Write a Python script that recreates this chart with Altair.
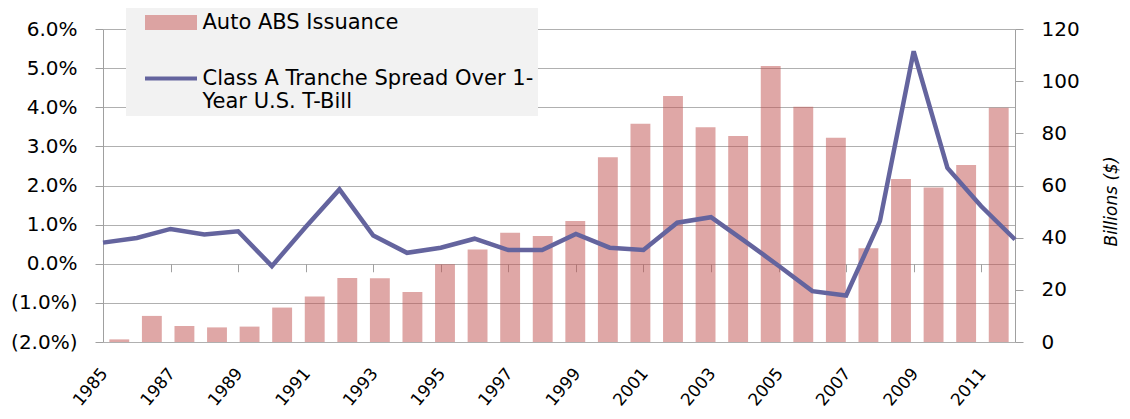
import altair as alt
import pandas as pd

years = list(range(1985, 2013))
issuance = [1.0, 10.0, 6.1, 5.6, 5.9, 13.2, 17.4, 24.5, 24.4, 19.2,
             29.8, 35.5, 41.9, 40.6, 46.4, 70.8, 83.7, 94.3, 82.3, 79.0,
             105.8, 90.2, 78.3, 35.9, 62.5, 59.2, 67.9, 89.8]
spread = [0.0054, 0.0066, 0.0089, 0.0075, 0.0083, -0.0006, 0.0094, 0.0190, 0.0072, 0.0028,
          0.0041, 0.0064, 0.0035, 0.0035, 0.0076, 0.0041, 0.0035, 0.0105, 0.0119, 0.0058,
          -0.0005, -0.0070, -0.0081, 0.0109, 0.0543, 0.0245, 0.0147, 0.0062]
label_years = list(range(1985, 2012, 2))
left_ticks = [-0.02, -0.01, 0.0, 0.01, 0.02, 0.03, 0.04, 0.05, 0.06]
right_ticks = [0, 20, 40, 60, 80, 100, 120]

S_BAR = "Auto ABS Issuance"
S_LINE = "Class A Tranche Spread Over 1-Year U.S. T-Bill"
series = [S_BAR, S_LINE]

FONT = "DejaVu Sans"
BAR = "#C0504D"
BAR_SOLID = "#DCA3A2"
LINE = "#64649E"
GRID = "#B0B0B0"
AXIS = "#A0A0A0"

# custom symbol paths (unit = sqrt(symbolSize)/2 = 5px)
RECT_PATH = "M-4.8,-1.1H4.8V1.1H-4.8Z"
STROKE_PATH = "M-5.2,0H5.2"

df = pd.DataFrame({"year": years, "issuance": issuance, "spread": spread})
legend_df = pd.DataFrame({"series": series})

legend = alt.Legend(
    title=None, orient="none", legendX=23, legendY=-21,
    fillColor="#F2F2F2", padding=4, rowPadding=31,
    symbolSize=100, symbolStrokeWidth=4, symbolOffset=30.5, labelOffset=21,
    symbolOpacity=1, symbolFillColor=BAR_SOLID, symbolStrokeColor=LINE,
    labelFont=FONT, labelFontSize=21, labelColor="#000000", labelLimit=700,
    labelBaseline="middle",
    labelExpr=(f"datum.label === '{S_LINE}' ? "
               "['Class A Tranche Spread Over 1-\u2003\u2002\u2009', 'Year U.S. T-Bill'] : datum.label"),
)

bars = alt.Chart(df).mark_bar(color=BAR, opacity=0.5).encode(
    x=alt.X("year:O", scale=alt.Scale(paddingInner=0.39, paddingOuter=0.195), axis=None),
    y=alt.Y("issuance:Q", scale=alt.Scale(domain=[0, 120], nice=False, zero=True),
            axis=alt.Axis(orient="right", values=right_ticks, grid=False,
                          tickSize=8, labelPadding=18, tickColor=AXIS, domainColor=AXIS,
                          title="Billions ($)", titleFontStyle="italic", titleFontWeight="normal",
                          titleFontSize=17, titleAngle=270, titleX=96, titleY=172,
                          titleAlign="center", titleBaseline="middle")),
)

line = alt.Chart(df).mark_line(color=LINE, strokeWidth=4.5).encode(
    x=alt.X("year:Q", scale=alt.Scale(domain=[1985, 2012], nice=False, zero=False),
            axis=alt.Axis(orient="bottom", values=label_years, format="d", labelAngle=310,
                          labelAlign="right", labelBaseline="top", labelFontSize=17,
                          ticks=False, domain=False, grid=False, labelPadding=23,
                          labelOffset=-5, title=None)),
    y=alt.Y("spread:Q", scale=alt.Scale(domain=[-0.02, 0.06], nice=False, zero=False),
            axis=alt.Axis(orient="left", values=left_ticks, grid=True, gridColor=GRID,
                          tickSize=8, labelPadding=18, tickColor=AXIS, domainColor=AXIS,
                          title=None,
                          labelExpr=("datum.value < 0 ? '(' + format(-datum.value, '.1%') + ')' : "
                                     "format(datum.value, '.1%') + '\u2008'"))),
)

# tick marks hanging from the 0% line (category axis crosses at zero)
zero_ticks = alt.Chart(df).mark_line(opacity=0).encode(
    x=alt.X("year:Q", scale=alt.Scale(domain=[1985, 2012], nice=False, zero=False),
            axis=alt.Axis(orient="bottom", values=label_years, labels=False, domain=False,
                          grid=False, ticks=True, tickSize=8, tickColor=AXIS,
                          offset=-78.25, title=None)),
    y=alt.Y("spread:Q", scale=alt.Scale(domain=[-0.02, 0.06], nice=False, zero=False), axis=None),
)

key = alt.Chart(legend_df).mark_point(filled=True, opacity=0).encode(
    color=alt.Color("series:N", scale=alt.Scale(domain=series, range=[BAR_SOLID, LINE]), legend=legend),
    stroke=alt.Stroke("series:N", scale=alt.Scale(domain=series, range=[BAR_SOLID, LINE]), legend=legend),
    shape=alt.Shape("series:N", scale=alt.Scale(domain=series, range=[RECT_PATH, STROKE_PATH]), legend=legend),
)

chart = alt.layer(bars, line, zero_ticks, key).resolve_scale(
    x="independent", y="independent"
).properties(
    width=912, height=313,
    padding={"left": 95, "top": 21, "right": 107, "bottom": 69},
    autosize=alt.AutoSizeParams(type="none"),
).configure_view(stroke=None).configure_axis(
    labelFont=FONT, labelFontSize=20, labelColor="#000000",
    titleFont=FONT, titleFontSize=20, titleColor="#000000",
)

chart.save("out.html", embed_options={"renderer": "svg", "actions": False})
